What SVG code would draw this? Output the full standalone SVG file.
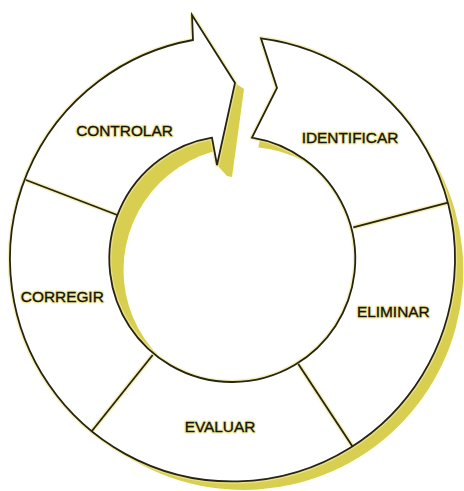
<svg xmlns="http://www.w3.org/2000/svg" width="464" height="491" viewBox="0 0 464 491">
  <style>
    .shadow { fill: #d8ce4f; }
    .halo { fill: none; stroke: #f1e89a; stroke-width: 4.5; stroke-linejoin: round; opacity: 0.7; }
    .line { fill: none; stroke: #27240f; stroke-width: 1.8; stroke-linejoin: miter; }
    .ringfill { fill: #ffffff; stroke: none; }
    .labelhalo { font-family: "Liberation Sans", Arial, sans-serif; font-size: 15.4px; fill: none; text-anchor: middle; stroke: #f3eba6; stroke-width: 3; stroke-linejoin: round; }
    .label { font-family: "Liberation Sans", Arial, sans-serif; font-size: 15.4px; fill: #141309; text-anchor: middle; stroke: #141309; stroke-width: 0.35; }
  </style>
  <defs>
    <path id="ringShape" d="M 261 38.3 A 222.5 222.5 0 1 1 193 40 L 192 15 L 235 83 L 217 165 L 212 137.7 A 123 123 0 1 0 252 137.6 L 277 88 Z"/>
    <clipPath id="gapClip">
      <polygon points="232.5,259 276.5,68.6 600,68.6 600,600 -100,600 -100,65 199.7,65"/>
    </clipPath>
  </defs>

  <rect x="0" y="0" width="464" height="491" fill="#ffffff"/>

  <g id="ring">
    <!-- outer extrusion shadow -->
    <path class="shadow" d="M 421.2 141.1 A 222.5 222.5 0 0 1 111.3 445.6 A 219.6 219.6 0 0 0 421.2 141.1 Z"/>
    <!-- inner extrusion shadow -->
    <path class="shadow" fill-rule="evenodd" clip-path="url(#gapClip)" d="M 109.5 259 A 123 123 0 1 0 355.5 259 A 123 123 0 1 0 109.5 259 Z M 123.5 270 A 123 123 0 1 0 369.5 270 A 123 123 0 1 0 123.5 270 Z"/>
    <!-- arrow head side -->
    <polygon class="shadow" points="235,83 244,89 232,177 227,176 217,165"/>
    <use href="#ringShape" class="halo"/>
    <use href="#ringShape" class="ringfill"/>
  </g>

  <g id="dividers">
    <g class="halo">
      <line x1="26" y1="180" x2="117.3" y2="215"/>
      <line x1="448" y1="202.7" x2="353.3" y2="227.3"/>
      <line x1="298.3" y1="364" x2="352.7" y2="446.7"/>
      <line x1="152.7" y1="355" x2="91.7" y2="431.2"/>
    </g>
    <g class="line">
      <line x1="26" y1="180" x2="117.3" y2="215"/>
      <line x1="448" y1="202.7" x2="353.3" y2="227.3"/>
      <line x1="298.3" y1="364" x2="352.7" y2="446.7"/>
      <line x1="152.7" y1="355" x2="91.7" y2="431.2"/>
    </g>
  </g>

  <g id="ring-outline">
    <use href="#ringShape" class="line"/>
  </g>

  <g id="controlar">
    <text class="labelhalo" x="124.5" y="136">CONTROLAR</text>
    <text class="label" x="124.5" y="136">CONTROLAR</text>
  </g>
  <g id="identificar">
    <text class="labelhalo" x="350" y="143.3">IDENTIFICAR</text>
    <text class="label" x="350" y="143.3">IDENTIFICAR</text>
  </g>
  <g id="eliminar">
    <text class="labelhalo" x="393.3" y="316.7">ELIMINAR</text>
    <text class="label" x="393.3" y="316.7">ELIMINAR</text>
  </g>
  <g id="evaluar">
    <text class="labelhalo" x="220" y="431.7">EVALUAR</text>
    <text class="label" x="220" y="431.7">EVALUAR</text>
  </g>
  <g id="corregir">
    <text class="labelhalo" x="62.3" y="301.7">CORREGIR</text>
    <text class="label" x="62.3" y="301.7">CORREGIR</text>
  </g>
</svg>
